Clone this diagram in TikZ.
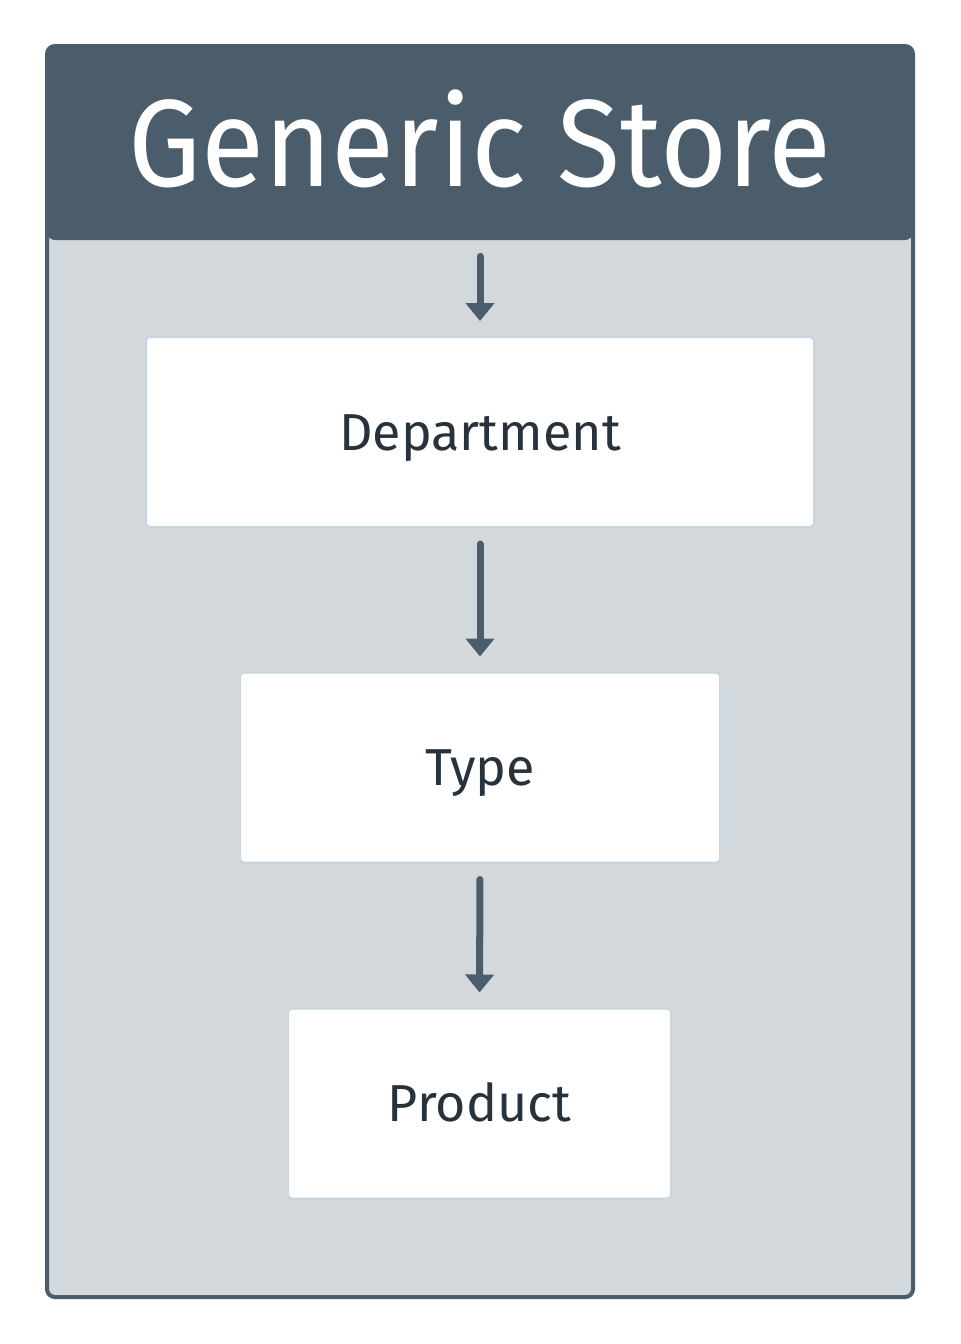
\documentclass[tikz,border=0pt]{standalone}
\usepackage{fontspec}
\setmainfont{Fira Sans}
\newfontfamily\titlefont[FakeStretch=0.93]{Fira Sans}
\usetikzlibrary{arrows.meta,positioning}
\definecolor{slate}{HTML}{4B5C6B}
\definecolor{panel}{HTML}{D3D8DC}
\definecolor{edge}{HTML}{C9D5DF}
\definecolor{ink}{HTML}{27323C}
\tikzset{
  level/.style={draw=edge, line width=1pt, fill=white, rounded corners=2pt,
    text=ink, font=\fontsize{26}{30}\selectfont, text height=18pt, text depth=0pt,
    minimum height=95pt},
  down/.style={slate, line width=3.5pt, line cap=round,
    -{Triangle[width=14pt,length=9pt]}, shorten <=8pt, shorten >=7.5pt}
}
\begin{document}
\begin{tikzpicture}[x=0.5pt,y=-0.5pt]
  \useasboundingbox (0,0) rectangle (960,1344);
  %% Frame
  \draw[slate, line width=2pt, fill=panel, rounded corners=4pt] (47,46) rectangle (913,1297);
  \node (store) [fill=slate, rounded corners=4pt, minimum width=433pt, minimum height=97pt,
    text=white, font=\titlefont\fontsize{62}{70}\selectfont, text height=43pt, text depth=0pt]
    at (480,143) {Generic Store};
  %% Levels
  \node (dept) [level, minimum width=334pt] at (480,432) {Department};
  \node (type) [level, minimum width=240pt] at (480,767.5) {Type};
  \node (prod) [level, minimum width=191.5pt] at (479.5,1103.5) {Product};
  %% Arrows
  \draw[down] (store.south) -- (dept.north);
  \draw[down] (dept.south) -- (type.north);
  \draw[down] (type.south) -- (prod.north);
\end{tikzpicture}
\end{document}
